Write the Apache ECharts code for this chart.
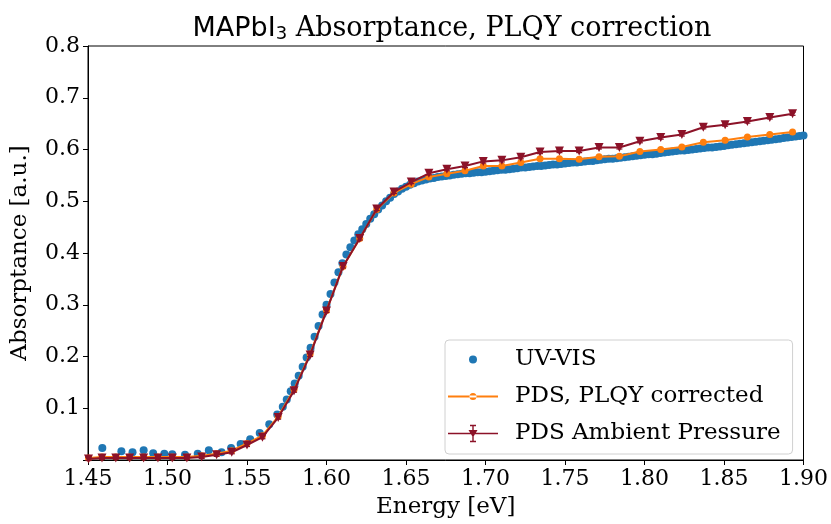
<!DOCTYPE html>
<html>
<head>
<meta charset="utf-8">
<script src="https://cdn.jsdelivr.net/npm/echarts@6/dist/echarts.min.js"></script>
<style>
html,body{margin:0;padding:0;background:#fff;}
#chart{width:831px;height:524px;}
</style>
</head>
<body>
<div id="chart"></div>
<script>
// ---- Data ----
const uvvisE = [1.459,1.471,1.478,1.485,1.491,1.498,1.503,1.511,1.519,1.526,1.534,1.540,1.546,1.552,1.558,1.564,1.569,1.5725,1.575,1.5775,
  1.5800,1.5825,1.5850,1.5875,1.5900,1.5925,1.5950,1.5975,1.6000,1.6025,1.6050,1.6075,1.6100,1.6125,1.6150,1.6175,1.6200,1.6225,1.6250,1.6275,
  1.6300,1.6325,1.6350,1.6375,1.6400,1.6425,1.6450,1.6475,1.6500,1.6525,1.6550,1.6575,1.6600,1.6625,1.6650,1.6675,1.6700,1.6725,1.6750,1.6775,
  1.6800,1.6825,1.6850,1.6875,1.6900,1.6925,1.6950,1.6975,1.7000,1.7025,1.7050,1.7075,1.7100,1.7125,1.7150,1.7175,1.7200,1.7225,1.7250,1.7275,
  1.7300,1.7325,1.7350,1.7375,1.7400,1.7425,1.7450,1.7475,1.7500,1.7525,1.7550,1.7575,1.7600,1.7625,1.7650,1.7675,1.7700,1.7725,1.7750,1.7775,
  1.7800,1.7825,1.7850,1.7875,1.7900,1.7925,1.7950,1.7975,1.8000,1.8025,1.8050,1.8075,1.8100,1.8125,1.8150,1.8175,1.8200,1.8225,1.8250,1.8275,
  1.8300,1.8325,1.8350,1.8375,1.8400,1.8425,1.8450,1.8475,1.8500,1.8525,1.8550,1.8575,1.8600,1.8625,1.8650,1.8675,1.8700,1.8725,1.8750,1.8775,
  1.8800,1.8825,1.8850,1.8875,1.8900,1.8925,1.8950,1.8975,1.9000];
const uvvisA = [0.023,0.017,0.015,0.019,0.013,0.012,0.011,0.010,0.012,0.019,0.015,0.023,0.031,0.040,0.052,0.069,0.088,0.103,0.117,0.133,
  0.148,0.163,0.180,0.198,0.217,0.238,0.259,0.281,0.300,0.321,0.343,0.363,0.380,0.397,0.411,0.424,0.436,0.446,0.456,0.466,
  0.475,0.484,0.492,0.500,0.507,0.514,0.519,0.524,0.528,0.532,0.535,0.538,0.540,0.542,0.544,0.545,0.547,0.548,0.549,0.550,
  0.551,0.552,0.553,0.554,0.554,0.555,0.556,0.556,0.557,0.558,0.559,0.560,0.561,0.561,0.562,0.563,0.564,0.565,0.565,0.566,
  0.567,0.568,0.568,0.569,0.570,0.571,0.571,0.572,0.573,0.574,0.575,0.575,0.576,0.577,0.578,0.578,0.579,0.580,0.581,0.582,
  0.582,0.583,0.584,0.585,0.586,0.587,0.588,0.589,0.590,0.591,0.591,0.592,0.593,0.594,0.595,0.596,0.597,0.598,0.598,0.599,
  0.600,0.601,0.602,0.603,0.604,0.604,0.605,0.606,0.607,0.608,0.609,0.610,0.611,0.612,0.613,0.614,0.615,0.616,0.617,0.618,
  0.619,0.620,0.621,0.622,0.623,0.624,0.625,0.626,0.627];

const pdsE = [1.4503,1.4588,1.4675,1.4762,1.4850,1.4940,1.5030,1.5122,1.5215,1.5309,1.5404,1.5500,1.5597,1.5696,1.5796,
  1.5897,1.6000,1.6104,1.6209,1.6316,1.6424,1.6533,1.6644,1.6757,1.6871,1.6986,1.7103,1.7222,1.7343,1.7465,1.7589,1.7714,
  1.7842,1.7971,1.8102,1.8235,1.8370,1.8507,1.8647,1.8788,1.8931];
const plqyA = [0.004,0.006,0.006,0.006,0.006,0.006,0.006,0.006,0.008,0.012,0.018,0.032,0.047,0.084,0.136,
  0.205,0.289,0.374,0.428,0.484,0.516,0.533,0.547,0.553,0.559,0.568,0.568,0.575,0.582,0.582,0.581,0.586,
  0.587,0.596,0.600,0.605,0.614,0.618,0.624,0.629,0.634];
const ambientA = [0.002,0.004,0.004,0.004,0.004,0.004,0.004,0.004,0.006,0.010,0.015,0.029,0.044,0.082,0.134,
  0.203,0.288,0.374,0.428,0.485,0.518,0.537,0.554,0.562,0.568,0.577,0.579,0.585,0.595,0.597,0.597,0.604,
  0.604,0.616,0.623,0.629,0.643,0.648,0.654,0.662,0.669];
const ambientErr = [0.003,0.003,0.003,0.003,0.003,0.003,0.003,0.003,0.003,0.003,0.003,0.003,0.003,0.003,0.003,
  0.003,0.003,0.003,0.003,0.003,0.003,0.003,0.003,0.003,0.003,0.003,0.003,0.003,0.003,0.003,0.003,0.003,
  0.003,0.003,0.003,0.003,0.003,0.003,0.003,0.003,0.003];

const xTicks = [1.45,1.90,0.05];
const yTicks = [0,0.8,0.1];
const titleMain = 'Absorptance, PLQY correction';
const seriesNames = ['UV-VIS','PDS, PLQY corrected','PDS Ambient Pressure'];

// ---- Chart ----
const SERIF = "'DejaVu Serif', serif";
const SANS = "'DejaVu Sans', sans-serif";
const C_BLUE = '#1f77b4', C_ORANGE = '#ff7f0e', C_RED = '#8c1228';

const zip = (xs, ys) => xs.map((x, i) => [x, ys[i]]);

const iconDot = 'path://M0,0L0.01,0L0,0.01Z M50,20L49.99,20L50,19.99Z M21,10A4,4,0,1,0,29,10A4,4,0,1,0,21,10Z';
const iconLineDot = 'path://M0,0L0.01,0L0,0.01Z M50,20L49.99,20L50,19.99Z M0,9L50,9L50,11L0,11Z M21.5,10A3.5,3.5,0,1,0,28.5,10A3.5,3.5,0,1,0,21.5,10Z';
const iconErr = 'path://M0,0L0.01,0L0,0.01Z M50,20L49.99,20L50,19.99Z M0,9.2L50,9.2L50,10.8L0,10.8Z M24.3,2L25.7,2L25.7,18L24.3,18Z M22,1.3L28,1.3L28,2.7L22,2.7Z M22,17.3L28,17.3L28,18.7L22,18.7Z M20.5,6.5L29.5,6.5L25,14Z';

const chart = echarts.init(document.getElementById('chart'), null, {renderer: 'canvas'});
chart.setOption({
  backgroundColor: '#fff',
  animation: false,
  title: {
    text: '{s|MAPbI}{sub|3}{t| ' + titleMain + '}',
    left: 447, top: 9, textAlign: 'center',
    textStyle: {
      fontWeight: 'normal',
      rich: {
        s: {fontFamily: SANS, fontSize: 27, fontWeight: 'normal', color: '#000'},
        sub: {fontFamily: SANS, fontSize: 18, fontWeight: 'normal', color: '#000', padding: [11, 0, 0, 0]},
        t: {fontFamily: SERIF, fontSize: 27, fontWeight: 'normal', color: '#000'}
      }
    }
  },
  grid: {left: 88, right: 25, top: 46, bottom: 61, show: true, borderColor: '#000', borderWidth: 1, backgroundColor: 'transparent'},
  legend: {
    orient: 'vertical', left: 445, top: 340,
    padding: [8, 12, 9, 3], itemGap: 14,
    itemWidth: 50, itemHeight: 22,
    backgroundColor: 'rgba(255,255,255,0.8)', borderColor: '#d0d0d0', borderWidth: 1, borderRadius: 4,
    textStyle: {fontFamily: SERIF, fontSize: 23, color: '#000', padding: [0, 0, 0, 12]},
    data: [
      {name: seriesNames[0], icon: iconDot, itemStyle: {color: C_BLUE}},
      {name: seriesNames[1], icon: iconLineDot, itemStyle: {color: C_ORANGE}},
      {name: seriesNames[2], icon: iconErr, itemStyle: {color: C_RED}}
    ]
  },
  xAxis: {
    type: 'value', min: xTicks[0], max: xTicks[1], interval: xTicks[2],
    name: 'Energy [eV]', nameLocation: 'middle', nameGap: 36,
    nameTextStyle: {fontFamily: SERIF, fontSize: 23, color: '#000'},
    axisLine: {show: true, onZero: false, lineStyle: {color: '#000', width: 1}},
    axisTick: {show: true, inside: false, length: 5, lineStyle: {color: '#000'}},
    axisLabel: {fontFamily: SERIF, fontSize: 22, color: '#000', margin: 8, formatter: v => v.toFixed(2)},
    splitLine: {show: false}
  },
  yAxis: {
    type: 'value', min: yTicks[0], max: yTicks[1], interval: yTicks[2],
    name: 'Absorptance [a.u.]', nameLocation: 'middle', nameGap: 56, nameRotate: 90,
    nameTextStyle: {fontFamily: SERIF, fontSize: 23, color: '#000'},
    axisLine: {show: true, onZero: false, lineStyle: {color: '#000', width: 1}},
    axisTick: {show: true, inside: false, length: 5, lineStyle: {color: '#000'}},
    axisLabel: {fontFamily: SERIF, fontSize: 22, color: '#000', margin: 8, formatter: v => (v === 0 ? '' : v.toFixed(1))},
    splitLine: {show: false}
  },
  series: [
    {
      name: seriesNames[0], type: 'scatter', data: zip(uvvisE, uvvisA),
      symbol: 'circle', symbolSize: 8, itemStyle: {color: C_BLUE, opacity: 1}, z: 2
    },
    {
      name: seriesNames[1], type: 'line', data: zip(pdsE, plqyA),
      symbol: 'circle', symbolSize: 7, showAllSymbol: true,
      lineStyle: {color: C_ORANGE, width: 2}, itemStyle: {color: C_ORANGE}, z: 3
    },
    {
      name: seriesNames[2], type: 'line', data: zip(pdsE, ambientA),
      symbol: 'triangle', symbolRotate: 180, symbolSize: 9, showAllSymbol: true,
      lineStyle: {color: C_RED, width: 2}, itemStyle: {color: C_RED}, z: 4
    },
    {
      name: seriesNames[2], type: 'custom', z: 4,
      data: pdsE.map((e, i) => [e, ambientA[i] - ambientErr[i], ambientA[i] + ambientErr[i]]),
      renderItem: function (params, api) {
        const lo = api.coord([api.value(0), api.value(1)]);
        const hi = api.coord([api.value(0), api.value(2)]);
        const cap = 3;
        const st = {stroke: C_RED, lineWidth: 1.2};
        return {type: 'group', children: [
          {type: 'line', shape: {x1: lo[0], y1: lo[1], x2: hi[0], y2: hi[1]}, style: st},
          {type: 'line', shape: {x1: lo[0]-cap, y1: lo[1], x2: lo[0]+cap, y2: lo[1]}, style: st},
          {type: 'line', shape: {x1: hi[0]-cap, y1: hi[1], x2: hi[0]+cap, y2: hi[1]}, style: st}
        ]};
      },
      encode: {x: 0, y: [1, 2]}
    }
  ]
});
</script>
</body>
</html>
